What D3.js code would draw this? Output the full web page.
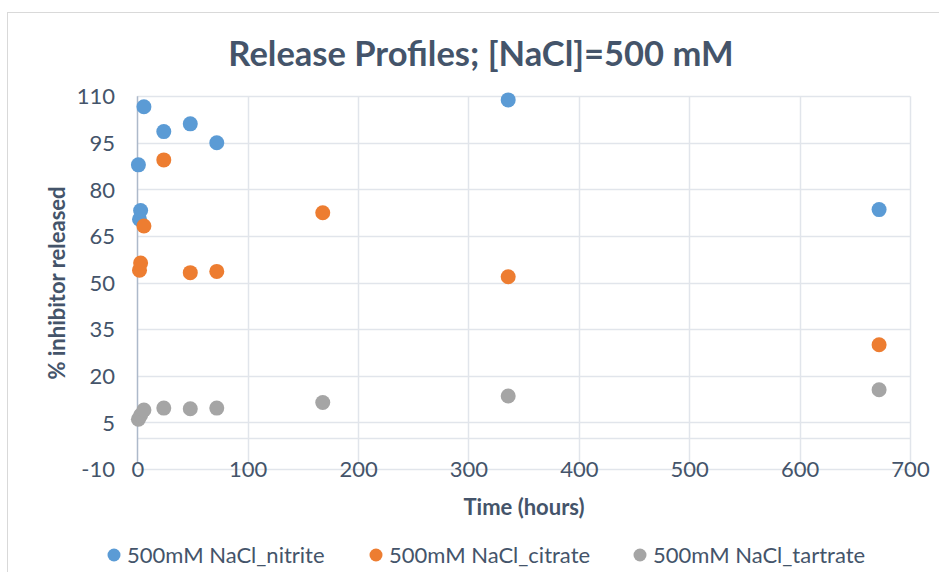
<!DOCTYPE html>
<html>
<head>
<meta charset="utf-8">
<script src="https://cdn.jsdelivr.net/npm/d3@7"></script>
<style>
  html, body { margin: 0; padding: 0; background: #fff; }
  svg { display: block; font-family: Lato, "Open Sans", sans-serif; }
</style>
</head>
<body>
<svg id="chart" width="939" height="572"></svg>
<script>
// Release data: [time (hours), % inhibitor released]
const nitrite = [[1, 87.9], [2, 70.4], [3, 73.2], [6, 106.6], [24, 98.6], [48, 101.1], [72, 95.0], [336, 108.8], [672, 73.5]];
const citrate = [[2, 54.0], [3, 56.3], [6, 68.2], [24, 89.5], [48, 53.2], [72, 53.6], [168, 72.5], [336, 51.9], [672, 30.0]];
const tartrate = [[1, 6.0], [3, 7.3], [6, 9.0], [24, 9.6], [48, 9.4], [72, 9.6], [168, 11.4], [336, 13.5], [672, 15.5]];

const seriesNames = ["500mM NaCl_nitrite", "500mM NaCl_citrate", "500mM NaCl_tartrate"];
const seriesColors = ["#5B9BD5", "#ED7D31", "#A5A5A5"];
const xTicks = [0, 100, 200, 300, 400, 500, 600, 700];
const yTicks = [-10, 5, 20, 35, 50, 65, 80, 95, 110];

const series = [nitrite, citrate, tartrate];
const textColor = "#44546A";
const plain = d => String(d);

const svg = d3.select("#chart");

// chart frame
svg.append("rect")
  .attr("x", 7.5).attr("y", 12.5)
  .attr("width", 960).attr("height", 600)
  .attr("fill", "#fff").attr("stroke", "#D9D9D9").attr("stroke-width", 1);

const x = d3.scaleLinear().domain([0, 700]).range([137.3, 910]);
const y = d3.scaleLinear().domain([-10, 110]).range([469, 96.2]);

const grid = svg.append("g");

// horizontal gridlines
grid.selectAll("line.h").data(yTicks).join("line")
  .attr("x1", x(0)).attr("x2", x(700))
  .attr("y1", d => Math.round(y(d)) + 0.5).attr("y2", d => Math.round(y(d)) + 0.5)
  .attr("stroke", "#E1E5EB").attr("stroke-width", 1.5);

// vertical gridlines
grid.selectAll("line.v").data(xTicks.filter(d => d !== 0)).join("line")
  .attr("x1", d => Math.round(x(d)) + 0.5).attr("x2", d => Math.round(x(d)) + 0.5)
  .attr("y1", y(110)).attr("y2", y(-10) - 7)
  .attr("stroke", "#E1E5EB").attr("stroke-width", 1.5);

// horizontal axis line at zero
grid.append("line")
  .attr("x1", x(0)).attr("x2", x(700))
  .attr("y1", Math.round(y(0)) + 0.5).attr("y2", Math.round(y(0)) + 0.5)
  .attr("stroke", "#E1E5EB").attr("stroke-width", 1.5);

// vertical axis line
grid.append("line")
  .attr("x1", Math.round(x(0)) + 0.5).attr("x2", Math.round(x(0)) + 0.5)
  .attr("y1", y(110)).attr("y2", y(-10) - 7)
  .attr("stroke", "#ADB9CA").attr("stroke-width", 1.5);

// y tick labels
const yAxis = d3.axisLeft(y).tickValues(yTicks).tickFormat(plain).tickSize(0).tickPadding(0);
const gy = svg.append("g").attr("transform", "translate(115,0)").call(yAxis);
gy.select(".domain").remove();
gy.selectAll("text")
  .attr("fill", textColor).style("font-size", "22px").style("font-family", "Lato, sans-serif")
  .attr("dy", "0.35em");

// x tick labels, centered on the bottom gridline
const xAxis = d3.axisBottom(x).tickValues(xTicks).tickFormat(plain).tickSize(0).tickPadding(0);
const gx = svg.append("g").attr("transform", `translate(0,${y(-10)})`).call(xAxis);
gx.select(".domain").remove();
gx.selectAll("text")
  .attr("fill", textColor).style("font-size", "22px").style("font-family", "Lato, sans-serif")
  .attr("y", 0).attr("dy", "0.35em");

// markers
series.forEach((data, i) => {
  svg.append("g").selectAll("circle").data(data).join("circle")
    .attr("cx", d => x(d[0])).attr("cy", d => y(d[1]))
    .attr("r", 7.5)
    .attr("fill", seriesColors[i]);
});

// title
svg.append("text")
  .attr("x", 481).attr("y", 66)
  .attr("text-anchor", "middle")
  .attr("fill", textColor)
  .style("font-size", "34.5px").style("font-weight", "bold")
  .text("Release Profiles; [NaCl]=500 mM");

// axis titles
svg.append("text")
  .attr("x", 524).attr("y", 515)
  .attr("text-anchor", "middle")
  .attr("fill", textColor)
  .style("font-size", "22px").style("font-weight", "bold")
  .text("Time (hours)");

svg.append("text")
  .attr("transform", "translate(65,283) rotate(-90)")
  .attr("text-anchor", "middle")
  .attr("fill", textColor)
  .style("font-size", "22px").style("font-weight", "bold")
  .text("% inhibitor released");

// legend
const legendX = [114, 376, 640];
const legend = svg.append("g");
seriesNames.forEach((name, i) => {
  legend.append("circle")
    .attr("cx", legendX[i]).attr("cy", 555).attr("r", 6.5)
    .attr("fill", seriesColors[i]);
  legend.append("text")
    .attr("x", legendX[i] + 13).attr("y", 555).attr("dy", "0.35em")
    .attr("fill", textColor)
    .style("font-size", "22px")
    .text(name);
});
</script>
</body>
</html>
